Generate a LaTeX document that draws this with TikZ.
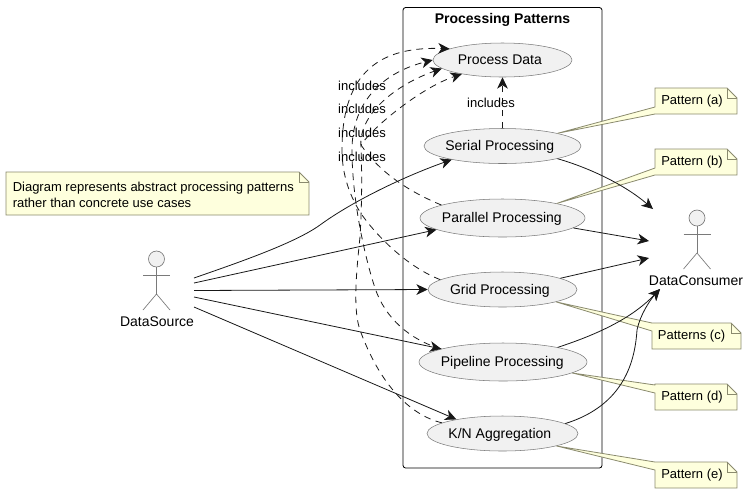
\documentclass[tikz,border=0pt]{standalone}
\usepackage{fontspec}
\setmainfont{Liberation Sans}
\usetikzlibrary{arrows.meta, shapes.geometric}

\definecolor{noteYellow}{HTML}{FEFFDD}
\definecolor{noteBorder}{HTML}{8A8A6E}
\definecolor{caseFill}{HTML}{F1F1F1}
\definecolor{caseBorder}{HTML}{7A7A7A}
\definecolor{lineDark}{HTML}{181818}

\tikzset{
	usecase/.style = {ellipse, draw = caseBorder, fill = caseFill, line width = 0.4pt, inner sep = 0pt, text height = 8.5pt, text depth = 1.1pt, font = \fontsize{10.5}{12}\selectfont},
	assoc/.style = {draw = lineDark, line width = 0.6pt, -{Stealth[length = 8.5pt, width = 8pt, inset = 2.5pt]}},
	incl/.style = {assoc, dash pattern = on 5pt off 4pt},
	label/.style = {font = \fontsize{9.75}{12}\selectfont, inner sep = 0pt},
	notetext/.style = {font = \fontsize{9.75}{12}\selectfont, inner sep = 0pt, align = left},
	notebody/.style = {draw = noteBorder, fill = noteYellow, line width = 0.6pt},
	stick/.style = {draw = caseBorder, line width = 0.5pt},
}

\newcommand{\caseText}[2]{\makebox[0pt]{#2\kern #1}}

\newcommand{\noteBox}[7]{% left, top, right, bottom, tip, wedge top, wedge low
	\draw [notebody] (#1,#2) -- (#3-10,#2) -- (#3,#2+10) -- (#3,#4) -- (#1,#4) -- (#1,#7) -- (#5) -- (#1,#6) -- cycle;
	\draw [notebody, fill = none] (#3-10,#2) -- (#3-10,#2+10) -- (#3,#2+10);
}

\newcommand{\stickMan}[2]{% x, y of head centre
	\draw [stick, fill = caseFill] (#1,#2) circle (6pt);
	\draw [stick] (#1,#2+8) -- (#1,#2+35);
	\draw [stick] (#1-13.5,#2+16) -- (#1+13.5,#2+16);
	\draw [stick] (#1-13.5,#2+51) -- (#1,#2+35) -- (#1+13.5,#2+51);
}

\begin{document}
\begin{tikzpicture}[x = 0.75pt, y = -0.75pt]
	\useasboundingbox (0,0) rectangle (749,494);

	% system box
	\draw [line width = 0.6pt, rounded corners = 2pt] (403,7.5) rectangle (602,468);
	\node (title) at (502.5,19.5) {\fontsize{10.5}{12}\selectfont\bfseries Processing Patterns};

	% actors
	\stickMan{156.5}{259}
	\stickMan{697}{218}
	\node (source) at (157,321.5) {\fontsize{10.5}{12}\selectfont DataSource};
	\node (consumer) at (696,281) {\fontsize{10.5}{12}\selectfont DataConsumer};

	% use cases
	\node [usecase, minimum width = 104.25pt, minimum height = 25.5pt] (process) at (502.5,60) {\caseText{4pt}{Process Data}};
	\node [usecase, minimum width = 117.75pt, minimum height = 26.25pt] (serial) at (502.5,146) {\caseText{4pt}{Serial Processing}};
	\node [usecase, minimum width = 123.75pt, minimum height = 28.5pt] (parallel) at (502.5,218) {\caseText{1pt}{Parallel Processing}};
	\node [usecase, minimum width = 111.75pt, minimum height = 26.25pt] (grid) at (502.5,289.5) {\caseText{4pt}{Grid Processing}};
	\node [usecase, minimum width = 126pt, minimum height = 28.5pt] (pipeline) at (503,362) {\caseText{1pt}{Pipeline Processing}};
	\node [usecase, minimum width = 113.25pt, minimum height = 26.25pt] (aggregation) at (502.5,433.5) {\caseText{4pt}{K/N Aggregation}};

	% notes
	\noteBox{6}{172}{309}{215}{6,215}{215}{215}
	\noteBox{655}{88}{737}{114}{serial.13.2}{107}{114}
	\noteBox{655}{149}{737}{175}{parallel.15.9}{168}{175}
	\noteBox{652}{323}{741}{349}{grid.-13.9}{323}{331}
	\noteBox{655}{384}{737}{410}{pipeline.-9.3}{385}{393}
	\noteBox{655}{462}{737}{488}{aggregation.-13.2}{462}{470}
	\node [notetext, anchor = west] (textGen) at (12.5,195) {Diagram represents abstract processing patterns\\rather than concrete use cases};
	\node [notetext] (textA) at (692,101.5) {Pattern (a)};
	\node [notetext] (textB) at (692,162.5) {Pattern (b)};
	\node [notetext] (textC) at (691.5,336.5) {Patterns (c)};
	\node [notetext] (textD) at (692,397.5) {Pattern (d)};
	\node [notetext] (textE) at (692,475.5) {Pattern (e)};

	% free ends next to the actors
	\coordinate (srcA) at (194,278);
	\coordinate (srcB) at (194,283);
	\coordinate (srcC) at (194,290.5);
	\coordinate (srcD) at (194,297);
	\coordinate (srcE) at (194,307);
	\coordinate (dstA) at (653,209);
	\coordinate (dstB) at (649,241);
	\coordinate (dstC) at (649,258);
	\coordinate (dstD) at (660,289);

	\begin{scope}
		\draw [assoc] (srcA) .. controls (240,262) and (295,243) .. (320,225) .. controls (350,203) and (400,178) .. (serial.195.5);
		\draw [assoc] (srcB) -- (parallel.190.9);
		\draw [assoc] (srcC) -- (grid.west);
		\draw [assoc] (srcD) -- (pipeline.168.3);
		\draw [assoc] (srcE) -- (aggregation.163.5);
	\end{scope}

	\begin{scope}
		\draw [assoc] (serial.-13.9) .. controls (590,168) and (625,185) .. (dstA);
		\draw [assoc] (parallel.-8.4) -- (dstB);
		\draw [assoc] (grid.11.7) -- (dstC);
		\draw [assoc] (pipeline.15.5) .. controls (605,332) and (635,315) .. (dstD);
		\draw [assoc] (aggregation.9.8) .. controls (625,405) and (635,360) .. (637,330) .. controls (640,315) and (650,300) .. (dstD);
	\end{scope}

	\begin{scope}
		\draw [incl] (serial.north) -- (process.south);
		\draw [incl] (parallel.168.6) .. controls (405,190) and (378,170) .. (361,145) .. controls (372,128) and (420,88) .. (process.199);
		\draw [incl] (grid.171.6) .. controls (410,268) and (380,240) .. (362,215) .. controls (350,197) and (342,175) .. (342,150) .. controls (342,80) and (372,46) .. (process.168.8);
		\draw [incl] (pipeline.168) .. controls (410,340) and (385,318) .. (375,288) .. controls (365,258) and (352,200) .. (352,150) .. controls (352,100) and (385,72) .. (process.180.8);
		\draw [incl] (aggregation.170.9) .. controls (410,415) and (380,385) .. (360,330) .. controls (353,310) and (356,275) .. (360,237) .. controls (362,205) and (362,170) .. (361,147) .. controls (358,115) and (395,85) .. (process.188.3);
	\end{scope}

	% labels
	\node [label] (inclA) at (491,103) {includes};
	\node [label] (inclB) at (362,86) {includes};
	\node [label] (inclC) at (362,109) {includes};
	\node [label] (inclD) at (362,133) {includes};
	\node [label] (inclE) at (362,157) {includes};
\end{tikzpicture}
\end{document}
